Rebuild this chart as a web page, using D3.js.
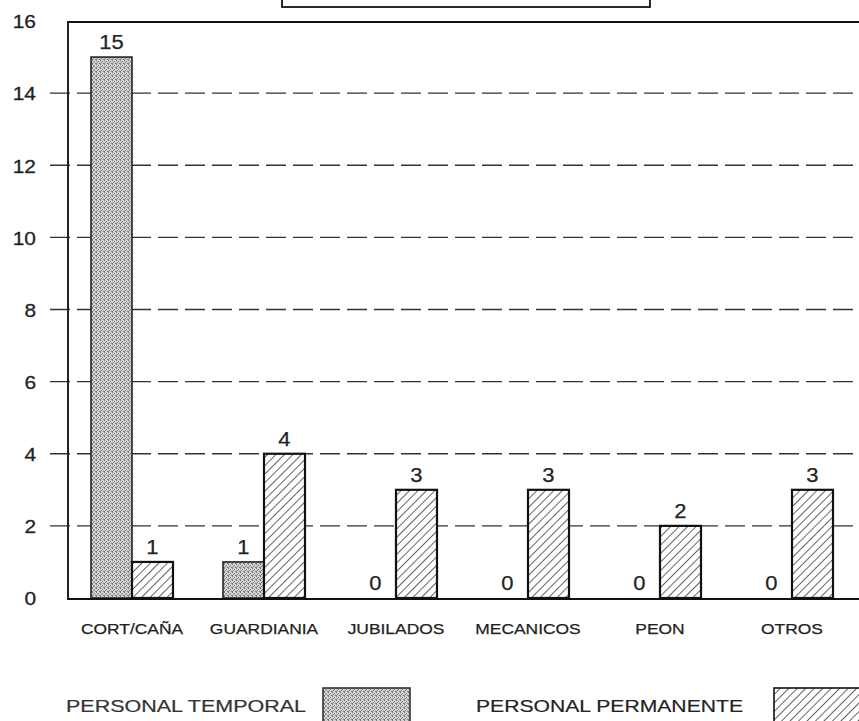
<!DOCTYPE html>
<html>
<head>
<meta charset="utf-8">
<script src="https://cdn.jsdelivr.net/npm/d3@7"></script>
<style>
  html, body { margin: 0; padding: 0; background: #fff; }
  svg { display: block; font-family: "Liberation Sans", Arial, sans-serif; }
  text { paint-order: stroke; }
</style>
</head>
<body>
<svg id="chart" width="859" height="721"></svg>
<script>
// ---- data ----
const categories = ["CORT/CAÑA", "GUARDIANIA", "JUBILADOS", "MECANICOS", "PEON", "OTROS"];
const temporal   = [15, 1, 0, 0, 0, 0];
const permanente = [1, 4, 3, 3, 2, 3];
const yTicks     = [0, 2, 4, 6, 8, 10, 12, 14, 16];
const seriesNames = ["PERSONAL TEMPORAL", "PERSONAL PERMANENTE"];

// ---- setup ----
const svg = d3.select("#chart");
const W = 859;
const x = d3.scaleBand().domain(categories).range([66, 858]).padding(0);
const y = d3.scaleLinear().domain([0, 16]).range([598, 21]);
const barW = 41;
const stretch = (sel, f) => sel.each(function () {
  const L = this.getComputedTextLength();
  d3.select(this).attr("textLength", L * f).attr("lengthAdjust", "spacingAndGlyphs");
});
const thicken = (sel, w) => sel.attr("stroke", "#333").attr("stroke-width", w);

// patterns
const defs = svg.append("defs");
const stip = defs.append("pattern").attr("id", "stipple")
  .attr("patternUnits", "userSpaceOnUse").attr("width", 4).attr("height", 4);
stip.append("rect").attr("width", 4).attr("height", 4).attr("fill", "#d2d2d2");
[[0,0],[2,1],[1,2],[3,3],[0,3]].forEach(([px,py]) =>
  stip.append("rect").attr("x", px).attr("y", py).attr("width", 1).attr("height", 1).attr("fill", "#7a7a7a"));
const hatch = defs.append("pattern").attr("id", "hatch")
  .attr("patternUnits", "userSpaceOnUse").attr("width", 6).attr("height", 6)
  .attr("patternTransform", "rotate(45)");
hatch.append("rect").attr("width", 6).attr("height", 6).attr("fill", "#fff");
hatch.append("line").attr("x1", 0).attr("y1", 0).attr("x2", 0).attr("y2", 6)
  .attr("stroke", "#111").attr("stroke-width", 1.3);

// title box (cut at top)
svg.append("rect").attr("x", 282).attr("y", -30).attr("width", 368).attr("height", 37)
  .attr("fill", "#fff").attr("stroke", "#111").attr("stroke-width", 1.8);

// gridlines (dashed)
svg.append("g").selectAll("line").data(yTicks.filter(d => d > 0 && d < 16)).join("line")
  .attr("x1", 50).attr("x2", W).attr("y1", d => y(d)).attr("y2", d => y(d))
  .attr("stroke", "#333").attr("stroke-width", 1.3).attr("stroke-dasharray", "20,7");

// y axis labels
const yAxis = svg.append("g").attr("transform", "translate(36,0)")
  .call(d3.axisLeft(y).tickValues(yTicks).tickSize(0).tickPadding(0));
yAxis.select(".domain").remove();
yAxis.selectAll("text").attr("font-size", 19).attr("fill", "#222")
  .attr("font-family", "Liberation Sans, Arial, sans-serif").attr("dy", "0.36em")
  .call(thicken, 0.3).call(stretch, 1.1);

// frame
svg.append("line").attr("x1", 68).attr("x2", W).attr("y1", 22).attr("y2", 22)
  .attr("stroke", "#111").attr("stroke-width", 2);
svg.append("line").attr("x1", 68).attr("x2", 68).attr("y1", 21).attr("y2", 600)
  .attr("stroke", "#222").attr("stroke-width", 2);

// bars
const gT = svg.append("g");
gT.selectAll("rect").data(categories).join("rect")
  .attr("x", (d) => x(d) + x.bandwidth() / 2 - barW)
  .attr("width", barW)
  .attr("y", (d, i) => y(temporal[i]))
  .attr("height", (d, i) => y(0) - y(temporal[i]))
  .attr("fill", "url(#stipple)")
  .attr("stroke", (d, i) => temporal[i] > 0 ? "#222" : "none").attr("stroke-width", 1.6);
const gP = svg.append("g");
gP.selectAll("rect").data(categories).join("rect")
  .attr("x", (d) => x(d) + x.bandwidth() / 2)
  .attr("width", barW)
  .attr("y", (d, i) => y(permanente[i]))
  .attr("height", (d, i) => y(0) - y(permanente[i]))
  .attr("fill", "url(#hatch)")
  .attr("stroke", "#111").attr("stroke-width", 2.2);

// bottom axis line
svg.append("line").attr("x1", 68).attr("x2", W).attr("y1", 599).attr("y2", 599)
  .attr("stroke", "#111").attr("stroke-width", 2.2);

// value labels
svg.append("g").selectAll("text").data(categories).join("text")
  .attr("x", d => x(d) + x.bandwidth() / 2 - barW / 2)
  .attr("y", (d, i) => y(temporal[i]) - 8)
  .attr("text-anchor", "middle").attr("font-size", 20).attr("fill", "#222")
  .text((d, i) => temporal[i]).call(thicken, 0.25).call(stretch, 1.1);
svg.append("g").selectAll("text").data(categories).join("text")
  .attr("x", d => x(d) + x.bandwidth() / 2 + barW / 2)
  .attr("y", (d, i) => y(permanente[i]) - 8)
  .attr("text-anchor", "middle").attr("font-size", 20).attr("fill", "#222")
  .text((d, i) => permanente[i]).call(thicken, 0.25).call(stretch, 1.1);

// category labels
const xAxis = svg.append("g").attr("transform", "translate(0,620)")
  .call(d3.axisBottom(x).tickSize(0).tickPadding(0));
xAxis.select(".domain").remove();
xAxis.selectAll("text").attr("font-size", 14.5).attr("fill", "#222")
  .attr("font-family", "Liberation Sans, Arial, sans-serif").attr("dy", "0.95em")
  .call(thicken, 0.25).call(stretch, 1.2);

// legend
const leg = svg.append("g");
leg.append("text").attr("x", 66).attr("y", 712).attr("font-size", 17).attr("fill", "#333")
  .attr("textLength", 240).attr("lengthAdjust", "spacingAndGlyphs").text(seriesNames[0])
  .call(thicken, 0.2);
leg.append("rect").attr("x", 323).attr("y", 688).attr("width", 87).attr("height", 40)
  .attr("fill", "url(#stipple)").attr("stroke", "#333").attr("stroke-width", 1.6);
leg.append("text").attr("x", 476).attr("y", 712).attr("font-size", 17).attr("fill", "#222")
  .attr("textLength", 267).attr("lengthAdjust", "spacingAndGlyphs").text(seriesNames[1])
  .call(thicken, 0.2);
leg.append("rect").attr("x", 774).attr("y", 688).attr("width", 90).attr("height", 40)
  .attr("fill", "url(#hatch)").attr("stroke", "#111").attr("stroke-width", 1.6);
</script>
</body>
</html>
